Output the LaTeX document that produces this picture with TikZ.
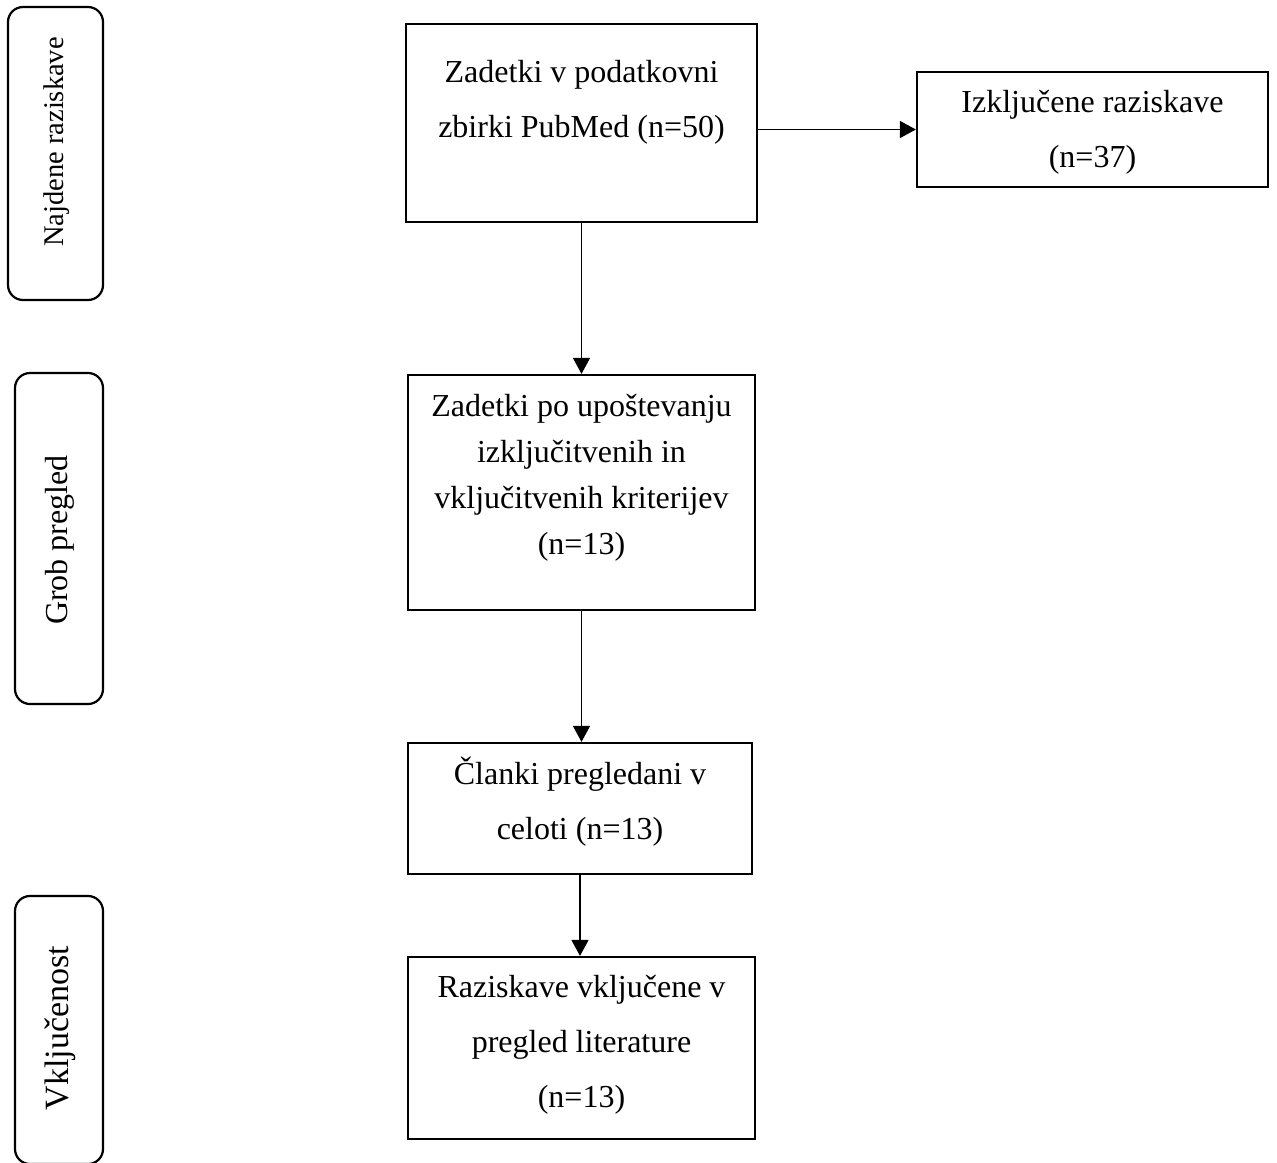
\documentclass[tikz,border=0pt]{standalone}
\usepackage{fontspec}
\setmainfont{Liberation Serif}
\usetikzlibrary{arrows.meta}
\begin{document}
\begin{tikzpicture}[x=1pt,y=-1pt,
  box/.style={draw, line width=2.2pt, inner sep=0pt},
  side/.style={draw, line width=2.2pt, inner sep=0pt, rounded corners=15pt},
  txt/.style={align=center, inner sep=0pt, font=\fontsize{32}{55}\selectfont},
  arr/.style={line width=1.3pt, -{Triangle[length=16pt,width=17pt]}}]
\useasboundingbox (0,0) rectangle (1277,1162);
% side boxes
\node[side, minimum width=95pt, minimum height=293pt] (s1) at (55.5,153.5) {};
\node[side, minimum width=88pt, minimum height=331pt] (s2) at (59,538.5) {};
\node[side, minimum width=88pt, minimum height=268pt] (s3) at (59,1030) {};
\node[txt, rotate=90, font=\fontsize{28.5}{34}\selectfont] (s1t) at (57,142) {Najdene raziskave};
\node[txt, rotate=90] (s2t) at (60,540) {Grob pregled};
\node[txt, rotate=90, font=\fontsize{34}{40}\selectfont] (s3t) at (60,1028) {Vključenost};
% main boxes
\node[box, minimum width=351pt, minimum height=198pt] (b1) at (581.5,123) {};
\node[box, minimum width=351pt, minimum height=115pt] (ex) at (1092.5,129.5) {};
\node[box, minimum width=347pt, minimum height=235pt] (b2) at (581.5,492.5) {};
\node[box, minimum width=344pt, minimum height=131pt] (b3) at (580,808.5) {};
\node[box, minimum width=347pt, minimum height=182pt] (b4) at (581.5,1048) {};
\node[txt] (b1t) at (581.5,102) {Zadetki v podatkovni\\zbirki PubMed (n=50)};
\node[txt] (ext) at (1092.5,132) {Izključene raziskave\\(n=37)};
\node[txt, font=\fontsize{32}{46}\selectfont] (b2t) at (581.5,478) {Zadetki po upoštevanju\\izključitvenih in\\vključitvenih kriterijev\\(n=13)};
\node[txt] (b3t) at (580,802) {Članki pregledani v\\celoti (n=13)};
\node[txt] (b4t) at (581.5,1045) {Raziskave vključene v\\pregled literature\\(n=13)};
% connectors
\draw[arr] (b1.south) -- (b2.north);
\draw[arr] (b2.south) -- (b2.south |- b3.north);
\draw[arr] (b3.south) -- (b3.south |- b4.north);
\draw[arr] (ex.west -| b1.east) -- (ex.west);
\end{tikzpicture}
\end{document}
